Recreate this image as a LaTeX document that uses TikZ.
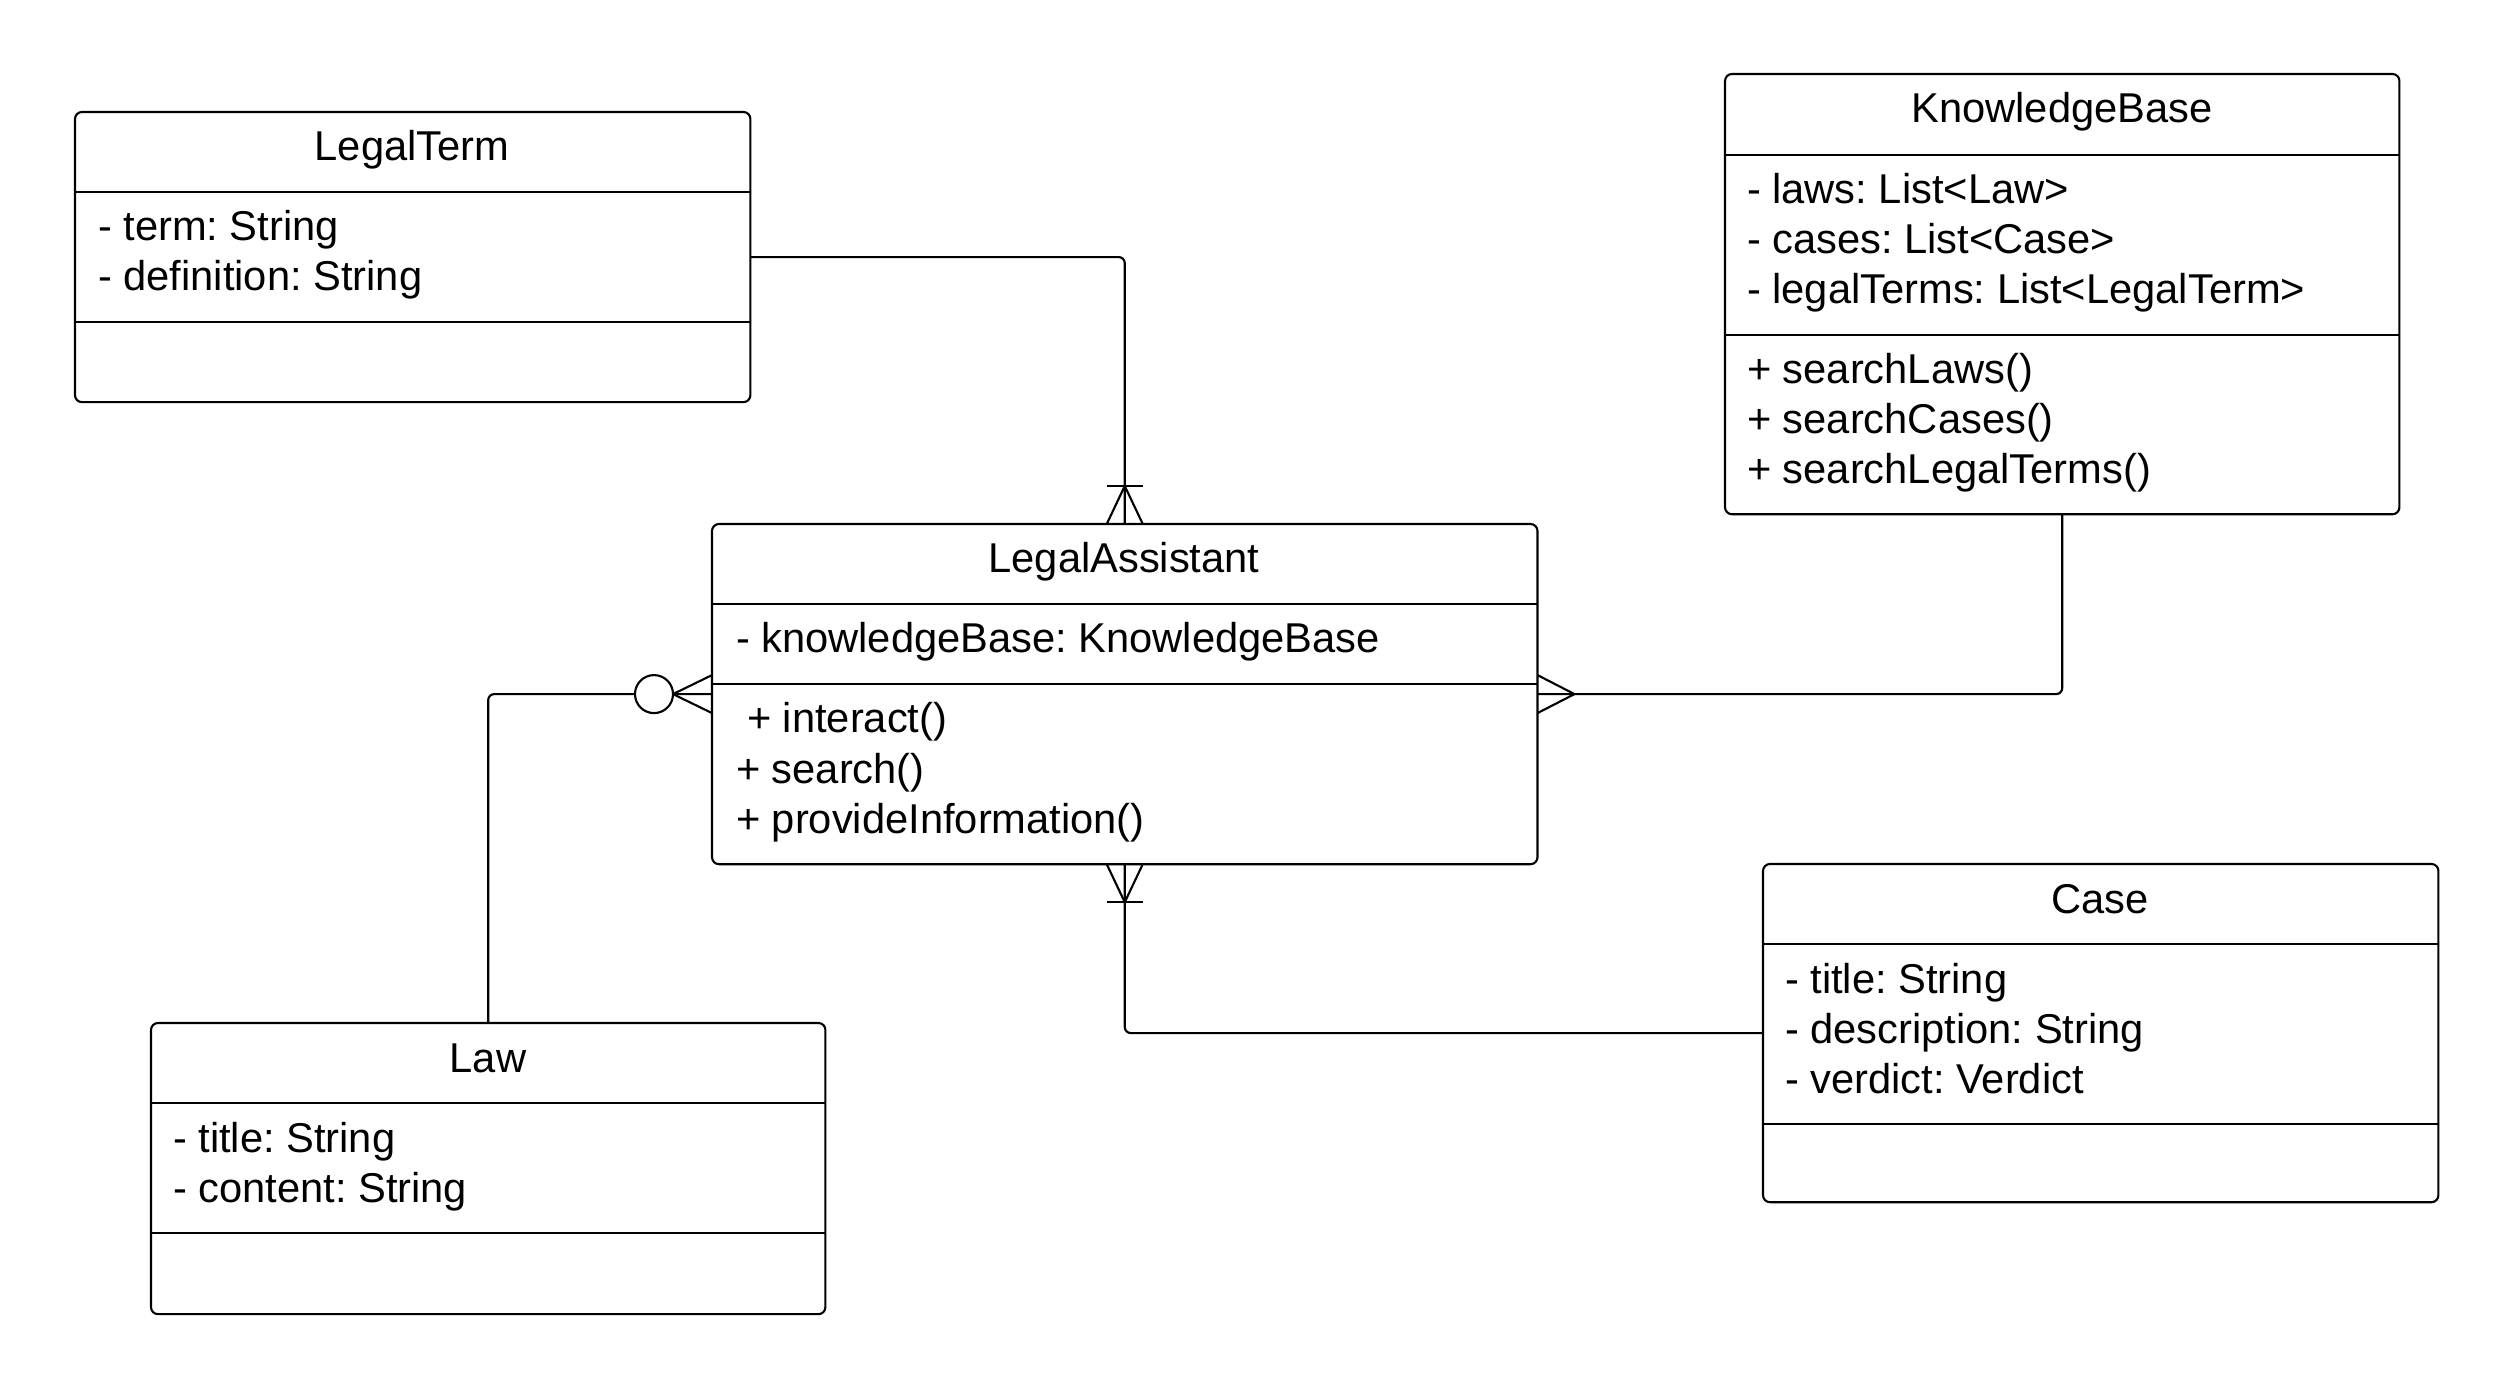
\documentclass[tikz,border=0pt]{standalone}
\usepackage{fontspec}
\setmainfont{Liberation Sans}
\usetikzlibrary{calc}
\frenchspacing
\begin{document}
\begin{tikzpicture}[x=0.01cm,y=-0.01cm,line width=0.6pt,
  cls/.style={draw,rounded corners=0.07cm,anchor=north west,inner sep=0pt,outer sep=0pt},
  txt/.style={inner sep=0pt,outer sep=0pt,anchor=base west,font=\fontsize{11.85pt}{14pt}\selectfont},
  ttl/.style={txt,anchor=base},
  conn/.style={rounded corners=0.06cm}]
\useasboundingbox[fill=white] (0,0) rectangle (2513,1389);

% LegalTerm
\node[cls,minimum width=6.75cm,minimum height=2.90cm] (lt) at (75,112) {};
\draw (75,192) -- (750,192);
\draw (75,322) -- (750,322);
\node[ttl] (ltT) at (412,161) {LegalTerm};
\node[txt] (ltA1) at (98,241) {- term: String};
\node[txt] (ltA2) at (98,291) {- definition: String};

% KnowledgeBase
\node[cls,minimum width=6.74cm,minimum height=4.40cm] (kb) at (1725,74) {};
\draw (1725,155) -- (2399,155);
\draw (1725,335) -- (2399,335);
\node[ttl] (kbT) at (2062,123) {KnowledgeBase};
\node[txt] (kbA1) at (1747,204) {- laws: List<Law>};
\node[txt] (kbA2) at (1747,254) {- cases: List<Case>};
\node[txt] (kbA3) at (1747,304) {- legalTerms: List<LegalTerm>};
\node[txt] (kbM1) at (1747,384) {+ searchLaws()};
\node[txt] (kbM2) at (1747,434) {+ searchCases()};
\node[txt] (kbM3) at (1747,484) {+ searchLegalTerms()};

% LegalAssistant
\node[cls,minimum width=8.25cm,minimum height=3.40cm] (la) at (712,524) {};
\draw (712,604) -- (1537,604);
\draw (712,684) -- (1537,684);
\node[ttl] (laT) at (1124,573) {LegalAssistant};
\node[txt] (laA1) at (736,653) {- knowledgeBase: KnowledgeBase};
\node[txt] (laM1) at (747,733) {+ interact()};
\node[txt] (laM2) at (736,783) {+ search()};
\node[txt] (laM3) at (736,833) {+ provideInformation()};

% Case
\node[cls,minimum width=6.75cm,minimum height=3.38cm] (case) at (1763,864) {};
\draw (1763,944) -- (2438,944);
\draw (1763,1124) -- (2438,1124);
\node[ttl] (caseT) at (2100,913) {Case};
\node[txt] (caseA1) at (1785,993) {- title: String};
\node[txt] (caseA2) at (1785,1043) {- description: String};
\node[txt] (caseA3) at (1785,1093) {- verdict: Verdict};

% Law
\node[cls,minimum width=6.74cm,minimum height=2.91cm] (law) at (151,1023) {};
\draw (151,1103) -- (825,1103);
\draw (151,1233) -- (825,1233);
\node[ttl] (lawT) at (488,1072) {Law};
\node[txt] (lawA1) at (173,1152) {- title: String};
\node[txt] (lawA2) at (173,1202) {- content: String};

% connectors
\draw[conn] (lt.east) -| (la.north);
\draw[conn] (kb.south) |- (la.east);
\draw[conn] (law.north) |- (la.west);
\draw[conn] (case.west) -| (la.south);

% north: one or many
\draw ($(la.north)+(-18,0)$) -- ($(la.north)+(0,-38)$) -- ($(la.north)+(18,0)$);
\draw ($(la.north)+(-18,-38)$) -- ($(la.north)+(18,-38)$);
% south: one or many
\draw ($(la.south)+(-18,0)$) -- ($(la.south)+(0,38)$) -- ($(la.south)+(18,0)$);
\draw ($(la.south)+(-18,38)$) -- ($(la.south)+(18,38)$);
% east: many
\draw ($(la.east)+(0,-19)$) -- ($(la.east)+(37,0)$) -- ($(la.east)+(0,19)$);
% west: zero or many
\draw ($(la.west)+(0,-19)$) -- ($(la.west)+(-39,0)$) -- ($(la.west)+(0,19)$);
\draw[fill=white] ($(la.west)+(-58,0)$) circle[radius=19];
\end{tikzpicture}
\end{document}
